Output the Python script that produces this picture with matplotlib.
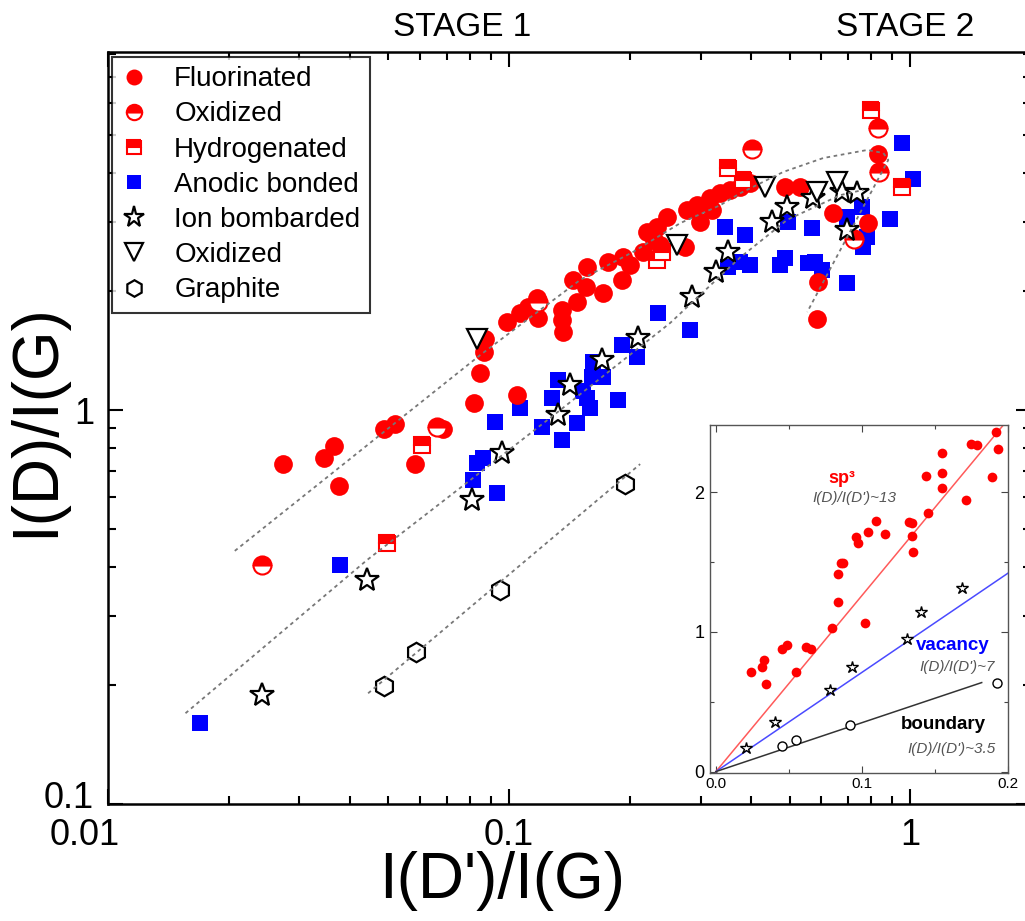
import matplotlib.pyplot as plt
from matplotlib.ticker import FuncFormatter, MultipleLocator, FixedLocator, NullFormatter
from matplotlib.transforms import ScaledTranslation

plt.rcParams['font.family'] = ['Liberation Sans', 'DejaVu Sans']

# ---- main panel data: I(D')/I(G) vs I(D)/I(G) ----
fluor_x = [0.0273, 0.0346, 0.0366, 0.0377, 0.0488, 0.0520, 0.0583, 0.0684, 0.0818, 0.0847,
           0.0871, 0.0866, 0.1047, 0.0989, 0.1065, 0.1115, 0.1174, 0.1181, 0.1356, 0.1356,
           0.1364, 0.1478, 0.1444, 0.1565, 0.1556, 0.1716, 0.1766, 0.1924, 0.1913, 0.2003,
           0.2159, 0.2209, 0.229, 0.2339, 0.2381, 0.2477, 0.2748, 0.2780, 0.2944, 0.2995,
           0.3171, 0.3208, 0.3359, 0.3557, 0.3768, 0.3990, 0.4880, 0.5318, 0.6427, 0.7858,
           0.5898, 0.5864, 0.8322]
fluor_y = [0.729, 0.756, 0.810, 0.641, 0.895, 0.921, 0.729, 0.895, 1.04, 1.24,
           1.51, 1.40, 1.09, 1.67, 1.76, 1.83, 1.92, 1.71, 1.79, 1.69,
           1.58, 1.88, 2.14, 2.31, 2.05, 1.98, 2.37, 2.44, 2.14, 2.33,
           2.52, 2.83, 2.70, 2.91, 2.62, 3.09, 2.59, 3.22, 3.31, 3.00,
           3.45, 3.22, 3.55, 3.62, 3.68, 3.77, 3.68, 3.68, 3.16, 2.98,
           2.11, 1.70, 4.46]

oxid_x = [0.0242, 0.0661, 0.1181, 0.4036, 0.8322, 0.8370, 0.7252]
oxid_y = [0.404, 0.905, 1.88, 4.60, 5.20, 4.02, 2.72]

hydro_x = [0.0496, 0.0607, 0.2339, 0.2407, 0.3517, 0.3833, 0.7994, 0.9550]
hydro_y = [0.460, 0.815, 2.40, 2.52, 4.11, 3.84, 5.77, 3.68]

anodic_x = [0.0170, 0.0379, 0.0832, 0.0814, 0.0861, 0.0934, 0.0923, 0.1065, 0.1209, 0.1280,
            0.1326, 0.1356, 0.1478, 0.1530, 0.1565, 0.1592, 0.1611, 0.1620, 0.1716, 0.1870,
            0.1913, 0.2085, 0.2352, 0.2828, 0.3457, 0.3878, 0.3517, 0.3768, 0.3990, 0.4741,
            0.4880, 0.4965, 0.5568, 0.5797, 0.6037, 0.5697, 0.6965, 0.7592, 0.7813, 0.7636,
            0.6965, 0.8916, 0.9550, 1.0174]
anodic_y = [0.161, 0.404, 0.734, 0.664, 0.756, 0.616, 0.932, 1.01, 0.905, 1.07,
            1.19, 0.839, 0.927, 1.12, 1.07, 1.01, 1.21, 1.32, 1.21, 1.06,
            1.46, 1.36, 1.76, 1.60, 2.91, 2.78, 2.31, 2.37, 2.33, 2.33,
            2.43, 3.00, 2.36, 2.37, 2.27, 2.90, 3.09, 3.28, 2.75, 2.59,
            2.10, 3.05, 4.76, 3.86]

ion_x = [0.0242, 0.0442, 0.0809, 0.0960, 0.1326, 0.1420, 0.1706, 0.2097, 0.2861, 0.3283,
         0.3517, 0.4528, 0.4937, 0.5730, 0.6768, 0.7377, 0.6965]
ion_y = [0.189, 0.370, 0.591, 0.778, 0.971, 1.16, 1.34, 1.52, 1.94, 2.24,
         2.52, 3.00, 3.28, 3.45, 3.58, 3.55, 2.86]

tri_x = [0.0832, 0.2624, 0.4349, 0.5864, 0.6577]
tri_y = [1.51, 2.62, 3.68, 3.58, 3.79]

graph_x = [0.0488, 0.0586, 0.0949, 0.1946]
graph_y = [0.199, 0.243, 0.349, 0.649]

# dotted guide curves
guide_a_x = [0.0207, 0.0847, 0.1504, 0.2038, 0.2669, 0.3359, 0.3768, 0.4824, 0.6067, 0.7813,
             0.8564, 0.8813, 0.5535]
guide_a_y = [0.439, 1.379, 2.14, 2.52, 2.98, 3.31, 3.55, 4.02, 4.36, 4.57,
             4.49, 4.31, 1.773]
guide_b_x = [0.0156, 0.0442, 0.0800, 0.1341, 0.2520, 0.3768, 0.4937, 0.6690, 0.7636]
guide_b_y = [0.170, 0.416, 0.664, 1.00, 1.663, 2.44, 3.04, 3.51, 3.62]
guide_c_x = [0.0445, 0.2121]
guide_c_y = [0.191, 0.729]

# ---- inset data (linear axes) ----
in_sp3_x = [0.0238, 0.0313, 0.0333, 0.0340, 0.0454, 0.0489, 0.0546, 0.0619, 0.0648, 0.0792,
            0.0836, 0.0836, 0.0854, 0.0870, 0.0961, 0.0975, 0.1043, 0.1098, 0.1158, 0.1020,
            0.1320, 0.1340, 0.1340, 0.1350, 0.1454, 0.1436, 0.1546, 0.1550, 0.1546, 0.1710,
            0.1744, 0.1790, 0.1893, 0.1920, 0.1933]
in_sp3_y = [0.712, 0.748, 0.802, 0.629, 0.874, 0.907, 0.712, 0.890, 0.876, 1.026,
            1.217, 1.414, 1.493, 1.493, 1.681, 1.636, 1.717, 1.795, 1.700, 1.064,
            1.783, 1.776, 1.683, 1.569, 1.850, 2.117, 2.279, 2.140, 2.029, 1.945,
            2.343, 2.338, 2.110, 2.431, 2.307]
in_vac_x = [0.0208, 0.0404, 0.0779, 0.0929, 0.1306, 0.1406, 0.1687]
in_vac_y = [0.169, 0.355, 0.581, 0.748, 0.950, 1.145, 1.314]
in_bnd_x = [0.0454, 0.0546, 0.0918, 0.1927]
in_bnd_y = [0.183, 0.229, 0.336, 0.636]
fit_slopes = [12.6, 7.1, 3.5]
fit_xend = [0.197, 0.2, 0.182]

fig = plt.figure(figsize=(10.25, 9.21), dpi=100)
ax = fig.add_axes([0.1054, 0.127, 0.9005, 0.8165])
ax.set_xscale('log')
ax.set_yscale('log')

ax.plot(anodic_x, anodic_y, 's', color='#0000ff', ms=12, mew=0, zorder=2)
ax.plot(fluor_x, fluor_y, 'o', color='#ff0000', ms=13.5, mew=0, zorder=3)
ax.plot(oxid_x, oxid_y, 'o', color='#ff0000', ms=13, mew=1.5, fillstyle='top',
        markerfacecoloralt='white', zorder=4)
ax.plot(hydro_x, hydro_y, 's', color='#ff0000', ms=11.5, mew=1.5, fillstyle='top',
        markerfacecoloralt='white', zorder=4)
ax.plot(ion_x, ion_y, '*', mfc='white', mec='black', ms=18, mew=1.6, zorder=5)
ax.plot(tri_x, tri_y, 'v', mfc='white', mec='black', ms=15, mew=1.6, zorder=5)
ax.plot(graph_x, graph_y, 'h', mfc='white', mec='black', ms=14, mew=1.6, zorder=5)

for gx, gy in [(guide_a_x, guide_a_y), (guide_b_x, guide_b_y), (guide_c_x, guide_c_y)]:
    ax.plot(gx, gy, color='#777777', lw=1.3, ls=(0, (2, 2)), zorder=6)

ax.set_xlim(0.01, 2.0)
ax.set_ylim(0.1, 8.1)
ax.xaxis.set_major_locator(FixedLocator([0.01, 0.1, 1]))
ax.yaxis.set_major_locator(FixedLocator([0.1, 1]))
fmt = FuncFormatter(lambda v, p: f'{v:g}')
ax.xaxis.set_major_formatter(fmt)
ax.yaxis.set_major_formatter(fmt)
ax.xaxis.set_minor_formatter(NullFormatter())
ax.yaxis.set_minor_formatter(NullFormatter())
ax.tick_params(which='both', direction='in', top=True, right=True, width=1.5)
ax.tick_params(which='major', length=11, labelsize=26, pad=10)
ax.tick_params(which='minor', length=6)
for s in ax.spines.values():
    s.set_linewidth(1.8)

# corner labels nudged apart like the original
xt = ax.xaxis.get_major_ticks()[0].label1
xt.set_transform(xt.get_transform() + ScaledTranslation(-0.23, 0, fig.dpi_scale_trans))
yt = ax.yaxis.get_major_ticks()[0].label1
yt.set_transform(yt.get_transform() + ScaledTranslation(0, 0.1, fig.dpi_scale_trans))

ax.set_xlabel("I(D')/I(G)", fontsize=46)
ax.set_ylabel("I(D)/I(G)", fontsize=46)
ax.xaxis.set_label_coords(0.427, -0.062)
ax.yaxis.set_label_coords(-0.045, 0.51)

fig.text(0.4507, 0.9696, 'STAGE 1', fontsize=24, ha='center', va='center')
fig.text(0.883, 0.9696, 'STAGE 2', fontsize=24, ha='center', va='center')

labels = ['Fluorinated', 'Oxidized', 'Hydrogenated', 'Anodic bonded', 'Ion bombarded',
          'Oxidized', 'Graphite']
handles = [ax.lines[1], ax.lines[2], ax.lines[3], ax.lines[0], ax.lines[4], ax.lines[5],
           ax.lines[6]]
leg = ax.legend(handles, labels, loc='upper left', bbox_to_anchor=(0.004, 0.994),
                borderaxespad=0, fontsize=20, frameon=True, fancybox=False,
                edgecolor='black', handlelength=0.9, handletextpad=1.0,
                labelspacing=0.33, borderpad=0.35, markerscale=0.85)
leg.get_frame().set_linewidth(1.5)

# ---- inset ----
ins = fig.add_axes([0.6927, 0.1607, 0.2907, 0.3778])
ins.set_facecolor('white')
colors = ['#ff5a5a', '#4a4aff', '#333333']
for k, xe, c in zip(fit_slopes, fit_xend, colors):
    ins.plot([0, xe], [0, k * xe], color=c, lw=1.1, zorder=2)
ins.plot(in_sp3_x, in_sp3_y, 'o', color='#ff0000', ms=7, mew=0, zorder=3)
ins.plot(in_vac_x, in_vac_y, '*', mfc='white', mec='black', ms=9, mew=1.0, zorder=3)
ins.plot(in_bnd_x, in_bnd_y, 'o', mfc='white', mec='black', ms=6.5, mew=1.0, zorder=3)
ins.set_xlim(-0.004, 0.2)
ins.set_ylim(-0.01, 2.48)
ins.xaxis.set_major_locator(MultipleLocator(0.1))
ins.xaxis.set_minor_locator(MultipleLocator(0.05))
ins.yaxis.set_major_locator(MultipleLocator(1))
ins.yaxis.set_minor_locator(MultipleLocator(0.5))
ins.xaxis.set_major_formatter(FuncFormatter(lambda v, p: f'{v:.1f}'))
ins.yaxis.set_major_formatter(FuncFormatter(lambda v, p: f'{v:g}'))
ins.tick_params(which='both', direction='in', top=True, right=True, width=0.8,
                color='#444444')
ins.tick_params(which='major', length=5)
ins.tick_params(which='minor', length=3)
ins.tick_params(axis='x', labelsize=11, pad=3)
ins.tick_params(axis='y', labelsize=13, pad=4)
for s in ins.spines.values():
    s.set_color('#555555')
    s.set_linewidth(1.0)

ins.text(0.086, 2.1, 'sp³', color='#ff0000', fontsize=13, fontweight='bold',
         ha='center', va='center')
ins.text(0.095, 1.96, "I(D)/I(D')~13", color='#555555', fontsize=11, style='italic',
         ha='center', va='center')
ins.text(0.162, 0.9, 'vacancy', color='#0000ff', fontsize=13.5, fontweight='bold',
         ha='center', va='center')
ins.text(0.165, 0.75, "I(D)/I(D')~7", color='#555555', fontsize=11, style='italic',
         ha='center', va='center')
ins.text(0.156, 0.34, 'boundary', color='black', fontsize=13.5, fontweight='bold',
         ha='center', va='center')
ins.text(0.161, 0.165, "I(D)/I(D')~3.5", color='#555555', fontsize=11, style='italic',
         ha='center', va='center')

fig.savefig('out.png', dpi=100)
